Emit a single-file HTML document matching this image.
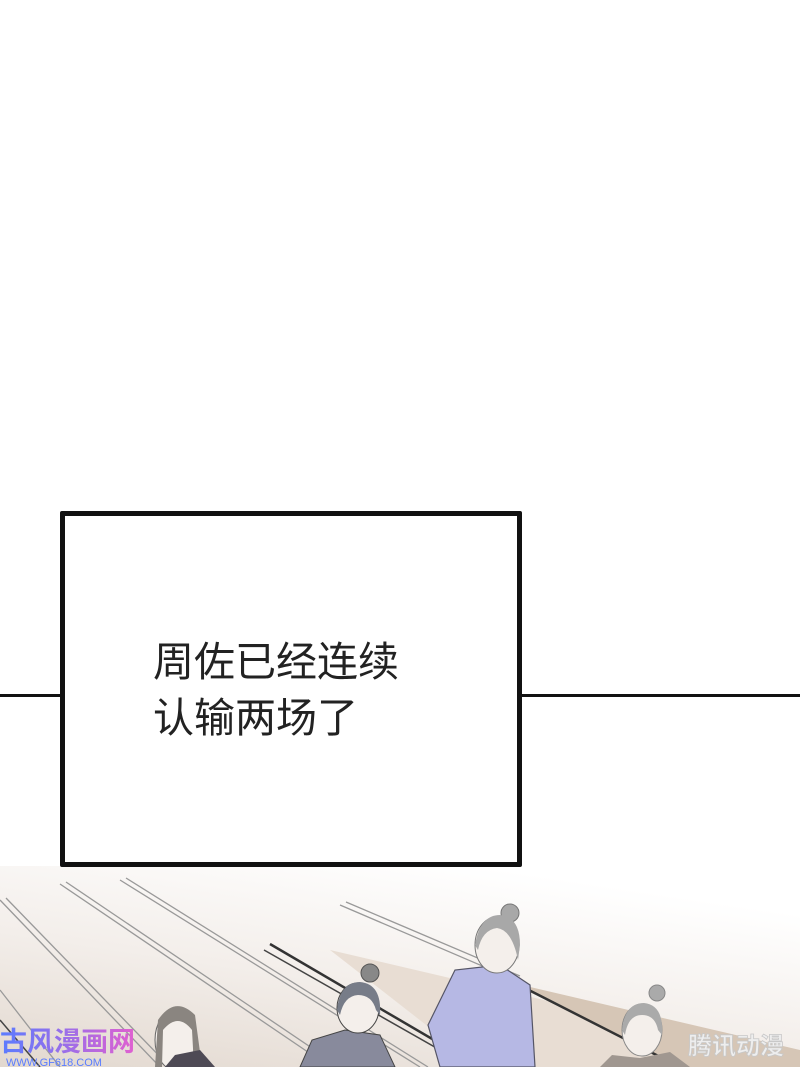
<!DOCTYPE html>
<html><head><meta charset="utf-8"><style>
html,body{margin:0;padding:0;}
body{width:800px;height:1067px;background:#fff;position:relative;overflow:hidden;font-family:"Liberation Sans","Noto Sans CJK SC",sans-serif;}
.box{position:absolute;left:60px;top:511px;width:452px;height:346px;border:5px solid #111;background:#fff;border-radius:2px;}
.ln{position:absolute;top:694px;height:3px;background:#111;}
.txt{position:absolute;left:153px;top:634px;font-size:41px;line-height:56px;color:#222;font-family:"Liberation Sans","Noto Sans CJK SC",sans-serif;}
</style></head><body>
<svg style="position:absolute;left:0;top:866px" width="800" height="201" viewBox="0 866 800 201">
<defs><linearGradient id="g" x1="0.6" y1="0" x2="0" y2="1"><stop offset="0" stop-color="#fff"/><stop offset="0.5" stop-color="#f3eeea"/><stop offset="1" stop-color="#e2d8cf"/></linearGradient>
<linearGradient id="wm" x1="0" x2="1"><stop offset="0" stop-color="#5a7cff"/><stop offset="1" stop-color="#e060d0"/></linearGradient></defs>
<rect x="0" y="866" width="800" height="201" fill="url(#g)"/>
<polygon points="0,870 800,870 800,1067 0,1067" fill="#fff" opacity="0"/>
<polygon points="330,950 800,1060 800,1067 480,1067" fill="#e8ddd3"/>
<polygon points="513,983 800,1050 800,1067 680,1067" fill="#d6c6b6"/>
<g stroke="#999" stroke-width="1.3" fill="none">
<line x1="0" y1="900" x2="160" y2="1067"/><line x1="6" y1="898" x2="170" y2="1067"/>
<line x1="60" y1="884" x2="330" y2="1067"/><line x1="66" y1="882" x2="340" y2="1067"/>
<line x1="120" y1="880" x2="420" y2="1067"/><line x1="126" y1="878" x2="428" y2="1067"/>
<line x1="340" y1="905" x2="515" y2="980"/><line x1="346" y1="902" x2="520" y2="976"/>
<line x1="0" y1="990" x2="60" y2="1067"/>
</g>
<g stroke="#333" stroke-width="2.5"><line x1="270" y1="944" x2="480" y2="1067"/><line x1="515" y1="983" x2="680" y2="1067"/></g>
<g stroke="#444" stroke-width="1.5"><line x1="264" y1="950" x2="470" y2="1067"/><line x1="0" y1="1020" x2="40" y2="1067"/></g>
<!-- big figure -->
<polygon points="428,1025 455,970 500,965 530,985 535,1067 440,1067" fill="#b6b8e4" stroke="#556" stroke-width="1.2"/>
<ellipse cx="510" cy="913" rx="9" ry="9" fill="#a8a8a8" stroke="#777"/>
<ellipse cx="497" cy="945" rx="22" ry="28" fill="#f4efeb" stroke="#777"/>
<path d="M475 945 Q480 915 500 915 Q520 917 520 945 L518 960 Q512 930 497 928 Q482 930 478 950Z" fill="#a8a8a8"/>
<!-- middle figure -->
<polygon points="300,1067 312,1040 345,1030 380,1035 395,1067" fill="#888a9c" stroke="#444"/>
<ellipse cx="370" cy="973" rx="9" ry="9" fill="#888" stroke="#555"/>
<ellipse cx="358" cy="1008" rx="21" ry="25" fill="#f4efeb" stroke="#444"/>
<path d="M337 1010 Q340 982 360 982 Q382 984 380 1015 L376 1010 Q372 995 358 995 Q344 996 340 1015Z" fill="#777c88"/>
<!-- right figure -->
<ellipse cx="657" cy="993" rx="8" ry="8" fill="#aaa" stroke="#888"/>
<ellipse cx="642" cy="1030" rx="20" ry="26" fill="#f4efeb" stroke="#888"/>
<path d="M622 1030 Q625 1003 644 1003 Q664 1005 662 1035 L658 1030 Q655 1015 642 1015 Q628 1015 625 1035Z" fill="#aaa"/>
<polygon points="600,1067 612,1055 640,1058 670,1052 690,1067" fill="#a09790"/>
<!-- left figure -->
<ellipse cx="175" cy="1040" rx="20" ry="30" fill="#f4efeb" stroke="#666"/>
<path d="M155 1067 L158 1020 Q175 995 195 1015 L202 1067 L194 1067 L192 1030 Q178 1012 163 1030 L162 1067Z" fill="#8a8580"/>
<polygon points="165,1067 175,1055 200,1050 215,1067" fill="#4e4a55"/>
<text x="0" y="1051" font-size="27" font-weight="bold" fill="url(#wm)" font-family="Noto Sans CJK SC,sans-serif">古风漫画网</text>
<text x="6" y="1066" font-size="11" fill="#5a7cff" font-family="Liberation Sans,sans-serif">WWW.GF618.COM</text>
<text x="688" y="1054" font-size="24" font-weight="bold" fill="#eee" stroke="#c8c8c8" stroke-width="0.8" font-family="Noto Sans CJK SC,sans-serif">腾讯动漫</text>
</svg>
<div class="ln" style="left:0;width:62px"></div>
<div class="ln" style="left:520px;width:280px"></div>
<div class="box"></div>
<div class="txt">周佐已经连续<br>认输两场了</div>
</body></html>
